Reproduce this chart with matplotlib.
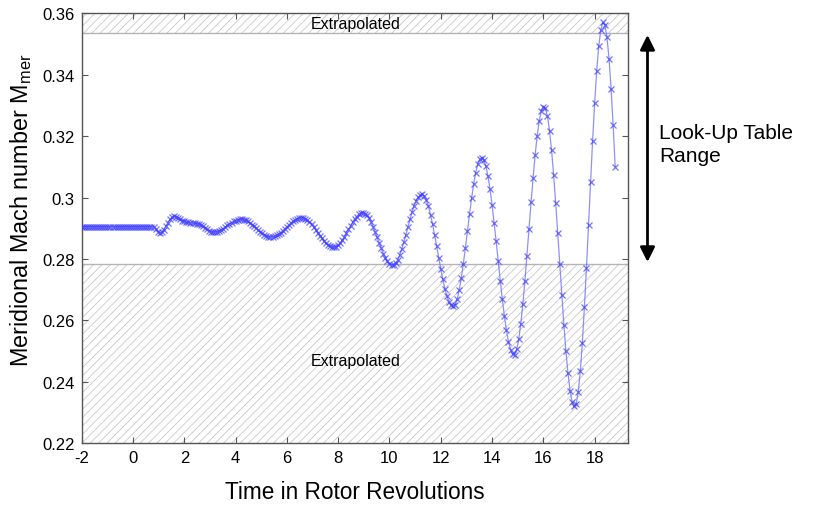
import matplotlib
matplotlib.use("Agg")
import matplotlib.pyplot as plt
import numpy as np

# Meridional Mach number, sampled every 0.08 rotor revolutions from t = -2
time_start = -2.0
time_step = 0.08
mach = [
    # steady initial state
    0.2905, 0.2905, 0.2905, 0.2905, 0.2905, 0.2905, 0.2905, 0.2905, 0.2905,
    0.2905, 0.2905, 0.2905, 0.2905, 0.2905, 0.2905, 0.2905, 0.2905, 0.2905,
    0.2905, 0.2905, 0.2905, 0.2905, 0.2905, 0.2905, 0.2905, 0.2905, 0.2905,
    0.2905, 0.2905, 0.2905, 0.2905, 0.2905, 0.2905, 0.2905, 0.2905, 0.2905,
    # onset of oscillation
    0.2899, 0.2888, 0.2884, 0.2887, 0.2895, 0.2906, 0.2918, 0.2929, 0.2936, 0.2939,
    0.2938, 0.2935, 0.2930, 0.2925, 0.2922, 0.2920, 0.2919, 0.2918, 0.2917, 0.2916, 0.2915,
    0.2914, 0.2912, 0.2907, 0.2902, 0.2896, 0.2891, 0.2888, 0.2887,
    0.2888, 0.2889, 0.2892, 0.2895, 0.2899, 0.2904, 0.2909, 0.2913, 0.2918, 0.2922,
    0.2925, 0.2927, 0.2929,
    0.2929, 0.2928, 0.2926, 0.2922, 0.2918, 0.2912, 0.2907, 0.2901, 0.2894, 0.2889,
    0.2883, 0.2879, 0.2875, 0.2873, 0.2872,
    0.2872, 0.2874, 0.2877, 0.2881, 0.2886, 0.2892, 0.2899, 0.2905, 0.2911, 0.2918,
    0.2923, 0.2927, 0.2931, 0.2933, 0.2934,
    0.2933, 0.2931, 0.2926, 0.2920, 0.2913, 0.2904, 0.2895, 0.2885, 0.2876, 0.2867,
    0.2858, 0.2851, 0.2845, 0.2841, 0.2839,
    0.2838, 0.2840, 0.2845, 0.2852, 0.2861, 0.2871, 0.2883, 0.2896, 0.2908, 0.2919,
    0.2930, 0.2938, 0.2945, 0.2949, 0.2950,
    0.2948, 0.2942, 0.2933, 0.2920, 0.2905, 0.2888, 0.2870, 0.2851, 0.2834, 0.2817,
    0.2803, 0.2792, 0.2784, 0.2780,
    0.2781, 0.2786, 0.2797, 0.2813, 0.2832, 0.2855, 0.2879, 0.2904, 0.2929, 0.2953,
    0.2973, 0.2990, 0.3001, 0.3008,
    # growing oscillation
    0.3010, 0.3004, 0.2991, 0.2971, 0.2944, 0.2913, 0.2878, 0.2841, 0.2804, 0.2768,
    0.2733, 0.2703, 0.2679, 0.2660, 0.2649, 0.2645,
    0.2651, 0.2669, 0.2699, 0.2738, 0.2785, 0.2836, 0.2891, 0.2945, 0.2997, 0.3043,
    0.3081, 0.3109, 0.3125,
    0.3130, 0.3122, 0.3102, 0.3070, 0.3027, 0.2976, 0.2918, 0.2857, 0.2792, 0.2729,
    0.2669, 0.2614, 0.2567, 0.2530, 0.2504, 0.2489,
    0.2488, 0.2505, 0.2538, 0.2589, 0.2653, 0.2728, 0.2811, 0.2898, 0.2984, 0.3065,
    0.3140, 0.3202, 0.3251, 0.3282, 0.3296,
    0.3291, 0.3265, 0.3218, 0.3154, 0.3074, 0.2983, 0.2884, 0.2782, 0.2681, 0.2585,
    0.2499, 0.2427, 0.2371, 0.2335, 0.2319,
    0.2327, 0.2366, 0.2434, 0.2527, 0.2643, 0.2771, 0.2910, 0.3050, 0.3185, 0.3309,
    0.3413, 0.3494, 0.3547, 0.3571,
    0.3563, 0.3523, 0.3453, 0.3355, 0.3236, 0.3101,
]
time = time_start + time_step * np.arange(len(mach))

# look-up table covers this Mach range, everything outside is extrapolated
table_min = 0.2785
table_max = 0.3535

x_ticks = [-2, 0, 2, 4, 6, 8, 10, 12, 14, 16, 18]
y_ticks = [0.22, 0.24, 0.26, 0.28, 0.30, 0.32, 0.34, 0.36]
y_tick_labels = ["0.22", "0.24", "0.26", "0.28", "0.3", "0.32", "0.34", "0.36"]

plt.rcParams["font.family"] = ["Liberation Sans", "DejaVu Sans"]
plt.rcParams["axes.unicode_minus"] = False
plt.rcParams["hatch.linewidth"] = 0.6

fig = plt.figure(figsize=(8.14, 5.10), dpi=100)
ax = fig.add_axes([0.1004, 0.1294, 0.6711, 0.8422])

xmin, xmax = -2, 19.3
ymin, ymax = 0.22, 0.36

# hatched extrapolation bands
for lo, hi in [(ymin, table_min), (table_max, ymax)]:
    ax.axhspan(lo, hi, facecolor="none", edgecolor="#c8c8c8", hatch="////",
               linewidth=0, zorder=1)
ax.axhline(table_min, color="#b4b4b4", linewidth=1.0, zorder=1.5)
ax.axhline(table_max, color="#b4b4b4", linewidth=1.0, zorder=1.5)

ax.plot(time, mach, color="#6060ff", linewidth=0.9, alpha=0.7,
        marker="x", markersize=4.2, markeredgewidth=0.9,
        markeredgecolor="#3a3aff", zorder=3)

ax.text(8.7, (table_max + ymax) / 2, "Extrapolated", ha="center", va="center",
        fontsize=11.5, zorder=4)
ax.text(8.7, 0.2468, "Extrapolated", ha="center", va="center",
        fontsize=11.5, zorder=4)

ax.set_xlim(xmin, xmax)
ax.set_ylim(ymin, ymax)
ax.set_xticks(x_ticks)
ax.set_yticks(y_ticks)
ax.set_yticklabels(y_tick_labels)
ax.tick_params(direction="in", top=True, right=True, length=4, width=0.8,
               labelsize=12, color="#555555", pad=5)
for spine in ax.spines.values():
    spine.set_color("#555555")
    spine.set_linewidth(1.0)

ax.set_xlabel("Time in Rotor Revolutions", fontsize=16.3, labelpad=11)
ax.set_ylabel("Meridional Mach number M$_{\\mathregular{mer}}$", fontsize=16.8)
ax.yaxis.set_label_coords(-0.087, 0.545)

# double arrow marking the table range
ax.annotate("", xy=(20.06, table_max - 0.0005), xytext=(20.06, table_min + 0.0005),
            xycoords="data", annotation_clip=False,
            arrowprops=dict(arrowstyle="<|-|>", color="black", lw=2,
                            mutation_scale=22, shrinkA=0, shrinkB=0))
ax.text(20.52, 0.3175, "Look-Up Table\nRange", ha="left", va="center",
        fontsize=15, linespacing=1.25, clip_on=False)

fig.savefig("out.png", dpi=100)
